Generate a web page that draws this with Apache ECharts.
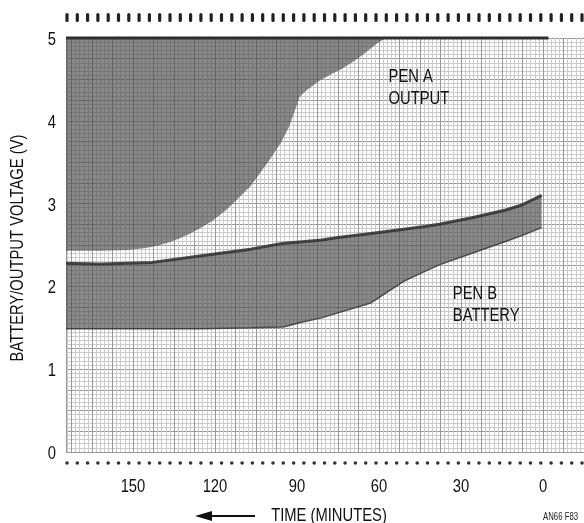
<!DOCTYPE html>
<html>
<head>
<meta charset="utf-8">
<script src="https://cdn.jsdelivr.net/npm/echarts@6/dist/echarts.min.js"></script>
<style>
html,body{margin:0;padding:0;background:#fff;}
#main{width:584px;height:523px;}
</style>
</head>
<body>
<div id="main"></div>
<script>
// ---- data (time in minutes remaining, voltage in V) ----
const xTickLabels = [150, 120, 90, 60, 30, 0];
const yTickLabels = [0, 1, 2, 3, 4, 5];

// Pen A (output): band between lower edge and the 5V trace
const penA_t   = [174.5, 162, 152, 146, 141, 137, 133, 129, 125, 121, 116, 111, 107, 103.5, 100, 96, 93, 90.5, 89, 86.5, 81.5, 77, 74, 70, 67, 63.5, 60.5, 57.5];
const penA_low = [2.43, 2.43, 2.44, 2.46, 2.49, 2.53, 2.58, 2.64, 2.71, 2.79, 2.92, 3.08, 3.21, 3.37, 3.53, 3.73, 3.92, 4.15, 4.29, 4.37, 4.49, 4.57, 4.62, 4.70, 4.77, 4.86, 4.94, 5.0];
const penA_top = [5, 5, 5, 5, 5, 5, 5, 5, 5, 5, 5, 5, 5, 5, 5, 5, 5, 5, 5, 5, 5, 5, 5, 5, 5, 5, 5, 5];
const penA_trace_t = [174.5, -2];
const penA_trace_v = [5, 5];

// Pen B (battery): band between lower and upper edges
const penB_t   = [174.5, 162, 143, 125, 107, 95, 88, 81, 75, 63, 51, 44, 38, 26, 14, 8, 0.5];
const penB_up  = [2.28, 2.27, 2.29, 2.37, 2.45, 2.52, 2.54, 2.56, 2.59, 2.64, 2.69, 2.72, 2.75, 2.83, 2.92, 2.98, 3.10];
const penB_low = [1.49, 1.49, 1.49, 1.49, 1.50, 1.51, 1.57, 1.62, 1.68, 1.80, 2.06, 2.17, 2.26, 2.40, 2.54, 2.61, 2.71];

// annotations [t, V, text]
const labelA = [56.5, 4.40, 'PEN A\nOUTPUT'];
const labelB = [33.0, 1.78, 'PEN B\nBATTERY'];
const xTitle = 'TIME (MINUTES)';
const yTitle = 'BATTERY/OUTPUT VOLTAGE (V)';
const figId = 'AN66 F83';

const FONT = "'Liberation Sans', Arial, sans-serif";
const NARROW = 0.82;   // condensed look of the original lettering

const chart = echarts.init(document.getElementById('main'), null, {renderer: 'canvas'});
const W = 584, H = 523;

function pairs(xs, ys) { return xs.map((x, i) => [x, ys[i]]); }

function band(name, ts, lows, ups, fill) {
  return {
    type: 'custom', name: name, silent: true, data: [[ts[0], ups[0]]],
    renderItem: function (params, api) {
      const pts = [];
      for (let i = 0; i < ts.length; i++) pts.push(api.coord([ts[i], ups[i]]));
      for (let i = ts.length - 1; i >= 0; i--) pts.push(api.coord([ts[i], lows[i]]));
      return {type: 'polygon', shape: {points: pts}, style: {fill: fill}};
    }
  };
}

const option = {
  backgroundColor: '#fff',
  animation: false,
  grid: {left: 66, right: 0, top: 38, bottom: 71, containLabel: false, outerBoundsMode: 'none'},
  xAxis: {
    type: 'value', inverse: true, min: -15, max: 174.5, interval: 7.5,
    axisLine: {show: false}, axisTick: {show: false}, axisLabel: {show: false},
    splitLine: {show: true, lineStyle: {color: '#999', width: 1}},
    minorTick: {show: false, splitNumber: 5},
    minorSplitLine: {show: true, lineStyle: {color: '#cbcbcb', width: 1}}
  },
  yAxis: {
    type: 'value', min: 0, max: 5, interval: 0.25,
    axisLine: {show: false}, axisTick: {show: false}, axisLabel: {show: false},
    splitLine: {show: true, lineStyle: {color: '#999', width: 1}},
    minorTick: {show: false, splitNumber: 5},
    minorSplitLine: {show: true, lineStyle: {color: '#cbcbcb', width: 1}}
  },
  series: [
    band('Pen A', penA_t, penA_low, penA_top, 'rgba(70,70,70,0.64)'),
    {
      name: 'Pen A trace', type: 'line', data: pairs(penA_trace_t, penA_trace_v),
      symbol: 'none', lineStyle: {width: 3, color: '#2e2e2e'}, clip: false, silent: true
    },
    band('Pen B', penB_t, penB_low, penB_up, 'rgba(72,72,72,0.64)'),
    {
      name: 'Pen B upper', type: 'line', data: pairs(penB_t, penB_up),
      symbol: 'none', lineStyle: {width: 3, color: 'rgba(45,45,45,0.85)'}, silent: true
    },
    {
      name: 'Pen B lower', type: 'line', data: pairs(penB_t, penB_low),
      symbol: 'none', lineStyle: {width: 1.5, color: 'rgba(55,55,55,0.85)'}, silent: true
    }
  ]
};
chart.setOption(option);

// ---- texts and paper decorations, positioned through the axes' scales ----
const px = (t, v) => chart.convertToPixel({gridIndex: 0}, [t, v]);
const graphics = [];
function txt(x, y, s, size, align, vAlign, rot, lh) {
  graphics.push({
    type: 'text', x: x, y: y, rotation: rot || 0, scaleX: NARROW, silent: true,
    style: {text: s, font: size + 'px ' + FONT, fill: '#111', align: align, verticalAlign: vAlign, lineHeight: lh || size}
  });
}
const y0 = px(0, 0)[1], yTop = px(0, 5)[1];
const xL = px(174.5, 0)[0], xR = px(-15, 0)[0];

xTickLabels.forEach(v => txt(px(v, 0)[0], y0 + 35, String(v), 18, 'center', 'middle'));
yTickLabels.forEach(v => txt(xL - 10, px(0, v)[1] + 2, String(v), 18, 'right', 'middle'));
txt((xL + xR) / 2 + 4, 516, xTitle, 18, 'center', 'middle');
txt(18, (y0 + yTop) / 2 + 3, yTitle, 18, 'center', 'middle', Math.PI / 2);
[labelA, labelB].forEach(l => { const p = px(l[0], l[1]); txt(p[0], p[1], l[2], 18, 'left', 'middle', 0, 22); });
graphics.push({type: 'text', x: 543, y: 517, scaleX: 0.78, silent: true,
  style: {text: figId, font: '10px ' + FONT, fill: '#222', align: 'left', verticalAlign: 'middle'}});

// perforations of the chart paper
for (let x = xL + 1; x < W - 1; x += 10.3) {
  graphics.push({type: 'rect', shape: {x: x - 1.6, y: 13, width: 3.2, height: 9, r: 1.6}, style: {fill: '#222'}, silent: true});
  graphics.push({type: 'circle', shape: {cx: x, cy: y0 + 11, r: 1.8}, style: {fill: '#333'}, silent: true});
}
// arrow beside the time title
graphics.push({type: 'line', shape: {x1: 208, y1: 516, x2: 255, y2: 516}, style: {stroke: '#111', lineWidth: 2}, silent: true});
graphics.push({type: 'polygon', shape: {points: [[195, 516], [212, 511], [212, 521]]}, style: {fill: '#111'}, silent: true});

chart.setOption({graphic: graphics});
</script>
</body>
</html>
